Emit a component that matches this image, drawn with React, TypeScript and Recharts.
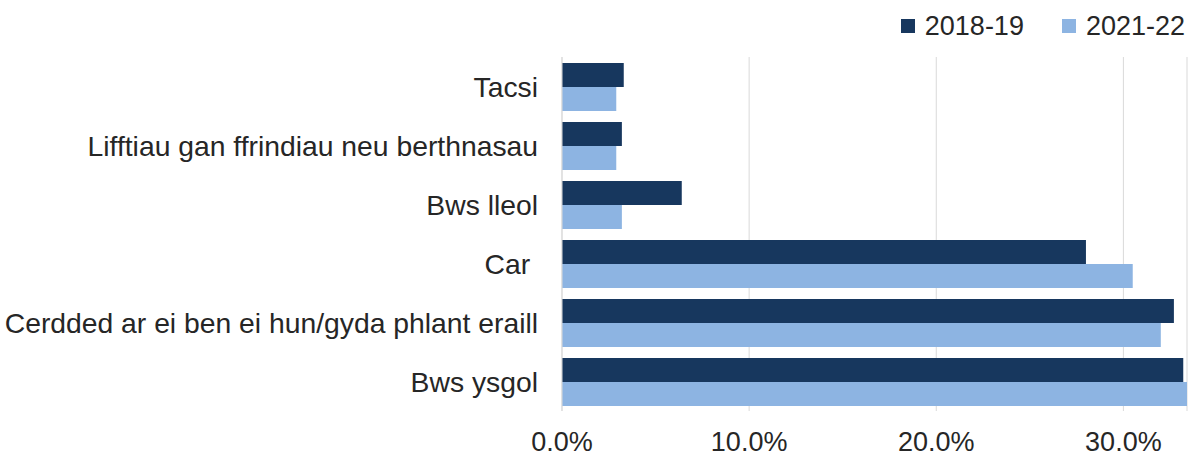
import { Bar, BarChart, CartesianGrid, Legend, XAxis, YAxis } from "recharts";

const categories = [
  "Tacsi",
  "Lifftiau gan ffrindiau neu berthnasau",
  "Bws lleol",
  "Car ",
  "Cerdded ar ei ben ei hun/gyda phlant eraill",
  "Bws ysgol",
];
const share2018 = [3.3, 3.2, 6.4, 28.0, 32.7, 33.2];
const share2022 = [2.9, 2.9, 3.2, 30.5, 32.0, 33.4];
const xTicks = [0, 10, 20, 30];

const data = categories.map((name, i) => ({
  name,
  y2018: share2018[i],
  y2022: share2022[i],
}));

const FONT = '"Liberation Sans", Arial, sans-serif';
const TEXT = "#262626";
const DARK = "#17375e";
const LIGHT = "#8db4e2";

function CategoryTick({ x, y, payload }: any) {
  return (
    <text
      x={x}
      y={y}
      dy="0.355em"
      textAnchor="end"
      fill={TEXT}
      fontSize={28.3}
      fontFamily={FONT}
      style={{ whiteSpace: "pre" }}
    >
      {payload.value}
    </text>
  );
}

function LegendBox({ payload }: any) {
  return (
    <div style={{ display: "flex", alignItems: "center", height: 40, fontFamily: FONT }}>
      {(payload ?? []).map((p: any, i: number) => (
        <div
          key={p.value}
          style={{ display: "flex", alignItems: "center", marginLeft: i ? 38 : 0 }}
        >
          <span style={{ width: 14, height: 14, background: p.color, marginRight: 10 }} />
          <span style={{ fontSize: 27, color: TEXT }}>{p.value}</span>
        </div>
      ))}
    </div>
  );
}

export default function App() {
  return (
    <div style={{ width: 1195, height: 459, background: "#fff" }}>
      <style>{"body{margin:0}"}</style>
      <BarChart
        width={1195}
        height={459}
        data={data}
        layout="vertical"
        margin={{ top: 17, right: 8, bottom: 0, left: 0 }}
        barCategoryGap="10%"
        barGap={0}
      >
        <CartesianGrid horizontal={false} stroke="#d9d9d9" />
        <XAxis
          type="number"
          domain={[0, 33.4]}
          ticks={xTicks}
          tickFormatter={(v: number) => `${v.toFixed(1)}%`}
          axisLine={false}
          tickLine={false}
          tickSize={0}
          tickMargin={21}
          height={48}
          tick={{ fontSize: 27, fill: TEXT, fontFamily: FONT }}
        />
        <YAxis
          type="category"
          dataKey="name"
          width={562}
          axisLine={{ stroke: "#d9d9d9" }}
          tickLine={false}
          tickSize={0}
          tickMargin={24}
          tick={<CategoryTick />}
          interval={0}
        />
        <Legend
          verticalAlign="top"
          align="right"
          wrapperStyle={{ top: 6, right: 10, left: "auto", width: "auto" }}
          content={<LegendBox />}
        />
        <Bar dataKey="y2018" name="2018-19" fill={DARK} isAnimationActive={false} />
        <Bar dataKey="y2022" name="2021-22" fill={LIGHT} isAnimationActive={false} />
      </BarChart>
    </div>
  );
}
